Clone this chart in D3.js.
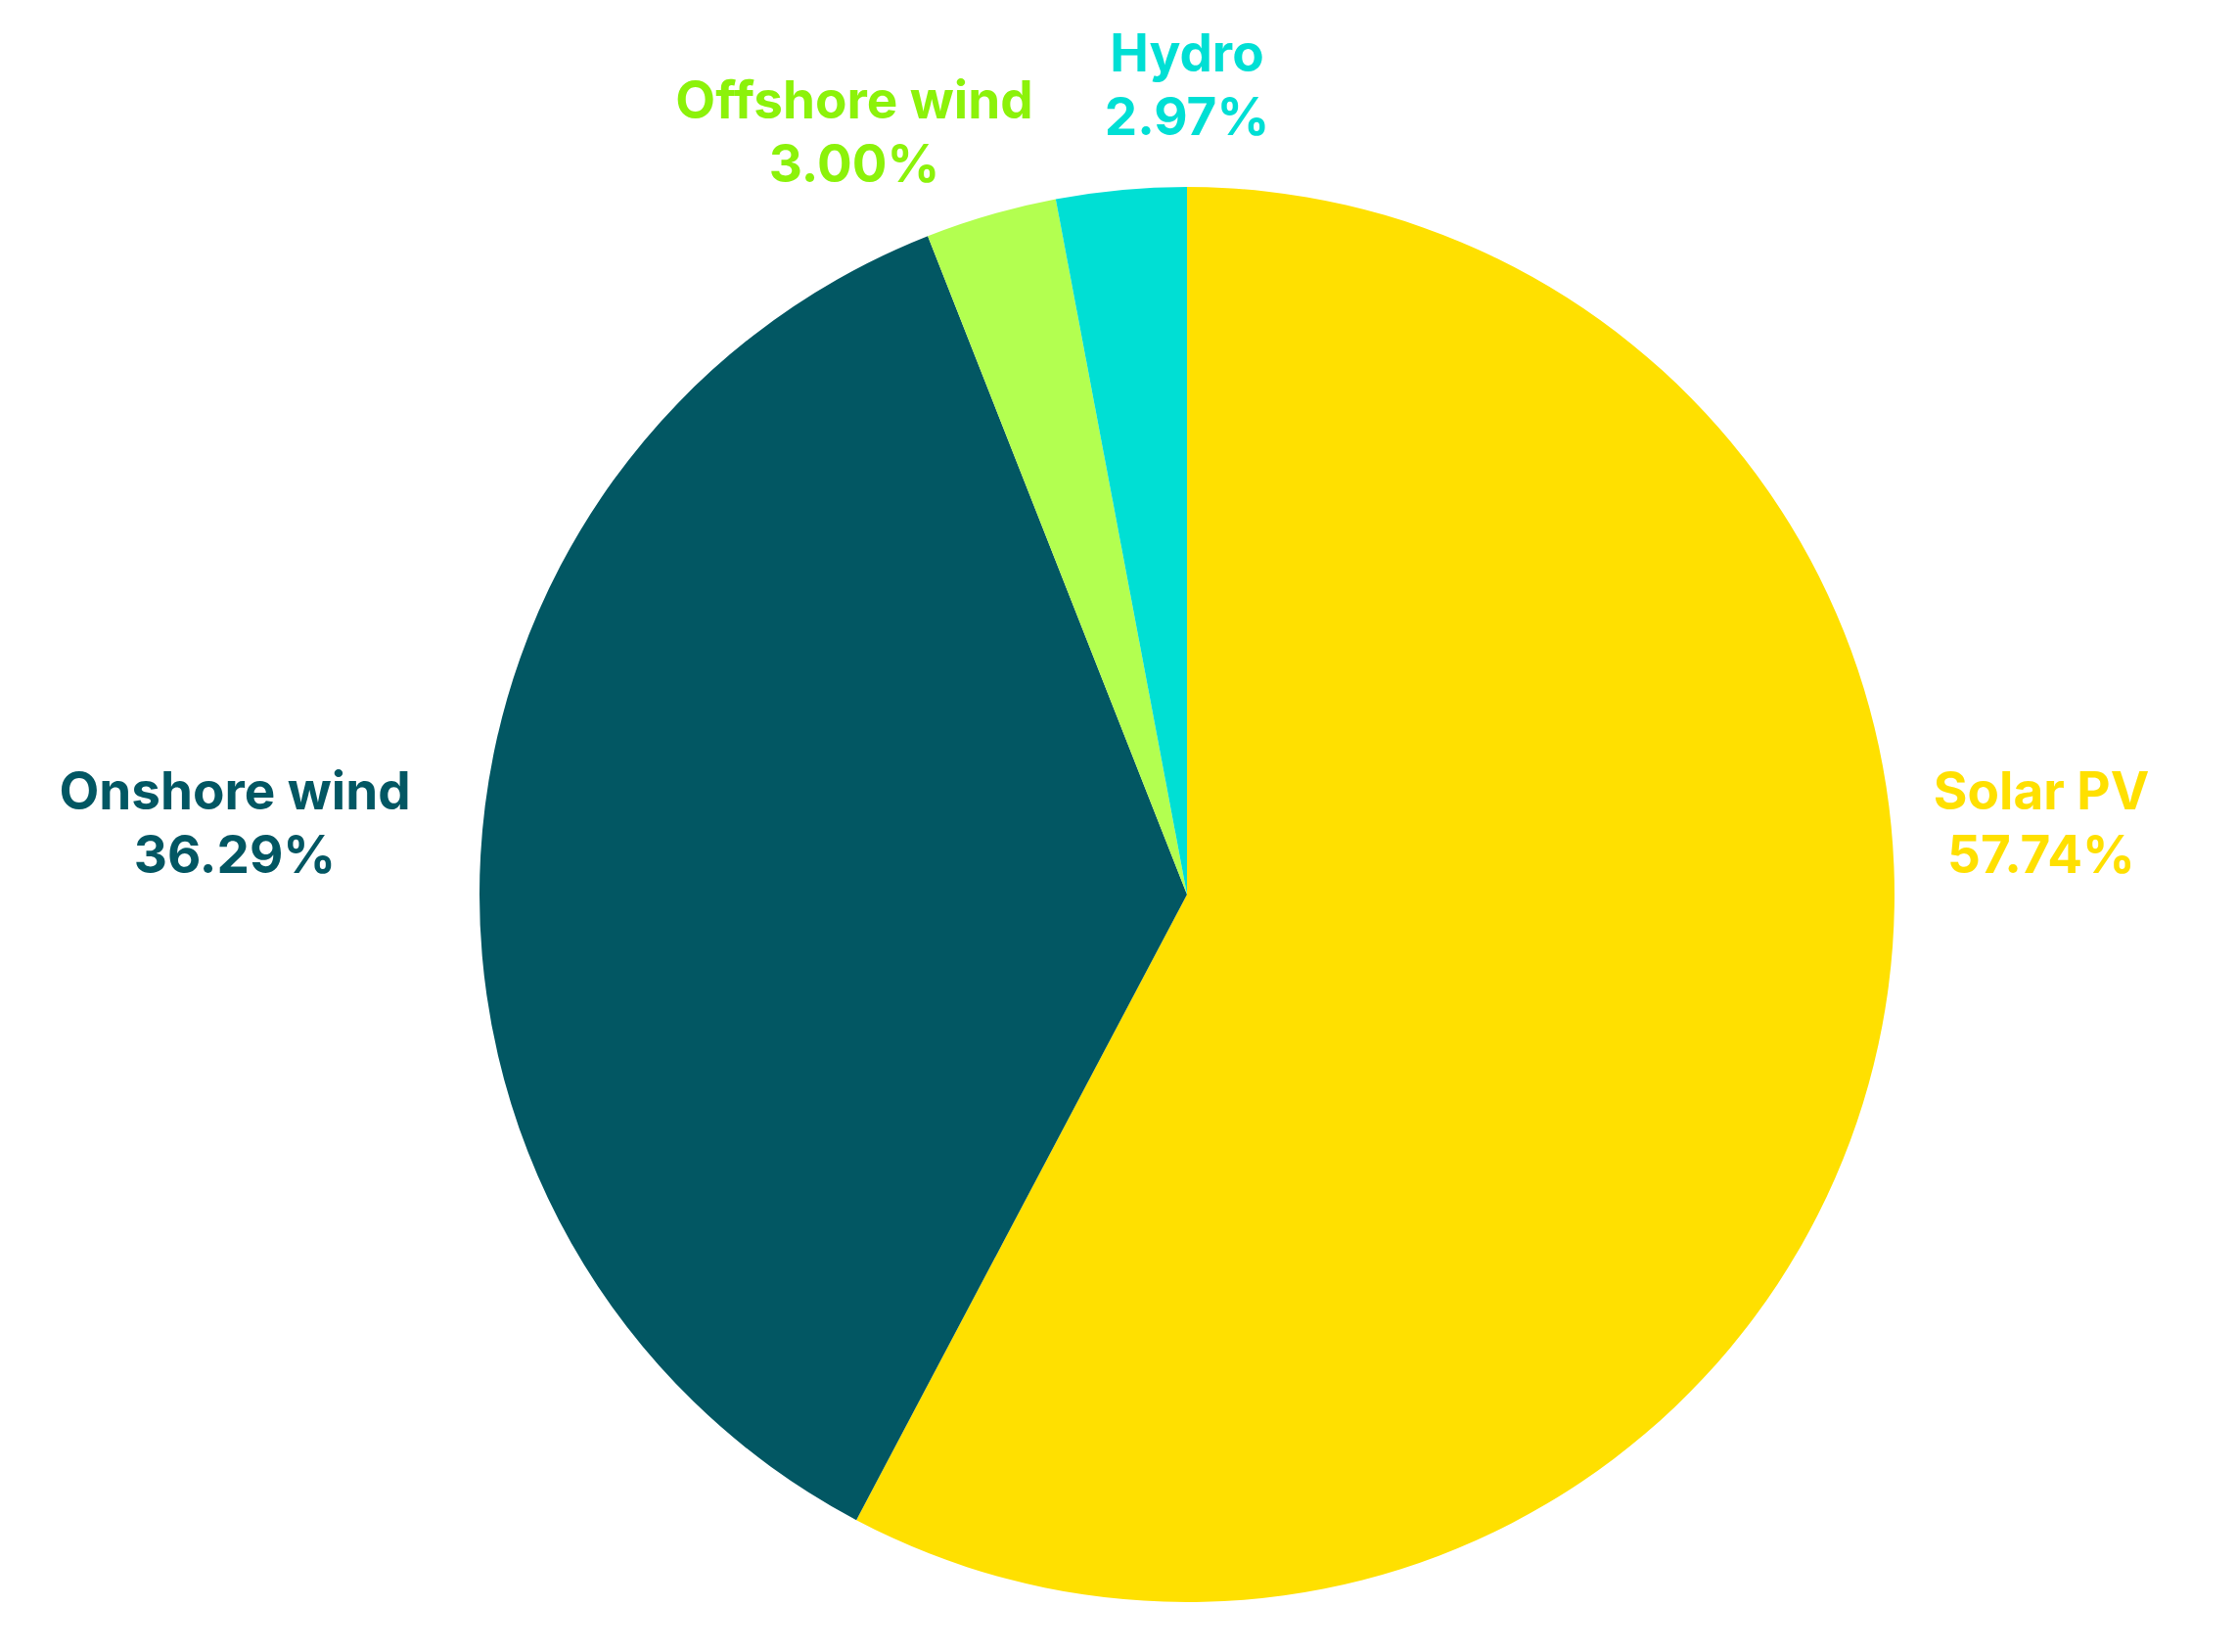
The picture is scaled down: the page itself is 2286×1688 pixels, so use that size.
<!DOCTYPE html>
<html>

<head>
	<meta charset="UTF-8" />
	<title>Renewable capacity share</title>
	<script src="https://d3js.org/d3.v7.min.js"></script>
	<style>
		body {
			margin: 0;
			background: #ffffff;
		}

		.label {
			font-family: Inter, "Noto Sans", sans-serif;
			font-weight: 700;
			font-size: 53px;
		}
	</style>
</head>

<body>
	<div id="main"></div>

	<script type="text/javascript">
		// data
		var sources = ['Solar PV', 'Onshore wind', 'Offshore wind', 'Hydro'];
		var shares = [57.74, 36.29, 3.00, 2.97];
		var sliceColors = ['#ffe000', '#025763', '#b3ff50', '#00dfd4'];
		var labelColors = ['#ffe000', '#025763', '#8cf20a', '#00dfd4'];

		var width = 2286, height = 1688;
		var cx = 1213, cy = 914, radius = 723;

		// label anchors, offset from the pie centre
		var labelPos = {
			'Solar PV': { x: 873, y: -87 },
			'Onshore wind': { x: -973, y: -87 },
			'Offshore wind': { x: -340, y: -793 },
			'Hydro': { x: 0, y: -841 }
		};

		var svg = d3.select('#main').append('svg')
			.attr('width', width).attr('height', height);

		var data = sources.map(function (s, i) {
			return { name: s, value: shares[i], color: sliceColors[i], labelColor: labelColors[i] };
		});

		var pie = d3.pie().sort(null).value(d => d.value);
		var arc = d3.arc().innerRadius(0).outerRadius(radius);

		var g = svg.append('g').attr('transform', 'translate(' + cx + ',' + cy + ')');

		g.selectAll('path').data(pie(data)).enter()
			.append('path')
			.attr('d', arc)
			.attr('fill', d => d.data.color);

		// labels
		var lab = g.selectAll('text.label').data(data).enter()
			.append('text')
			.attr('class', 'label')
			.attr('fill', d => d.labelColor)
			.attr('text-anchor', 'middle')
			.attr('transform', d => 'translate(' + labelPos[d.name].x + ',' + labelPos[d.name].y + ')');
		lab.append('tspan').attr('x', 0).attr('y', 0).text(d => d.name);
		lab.append('tspan').attr('x', 0).attr('y', 65).text(d => d.value.toFixed(2) + '%');
	</script>
</body>

</html>
